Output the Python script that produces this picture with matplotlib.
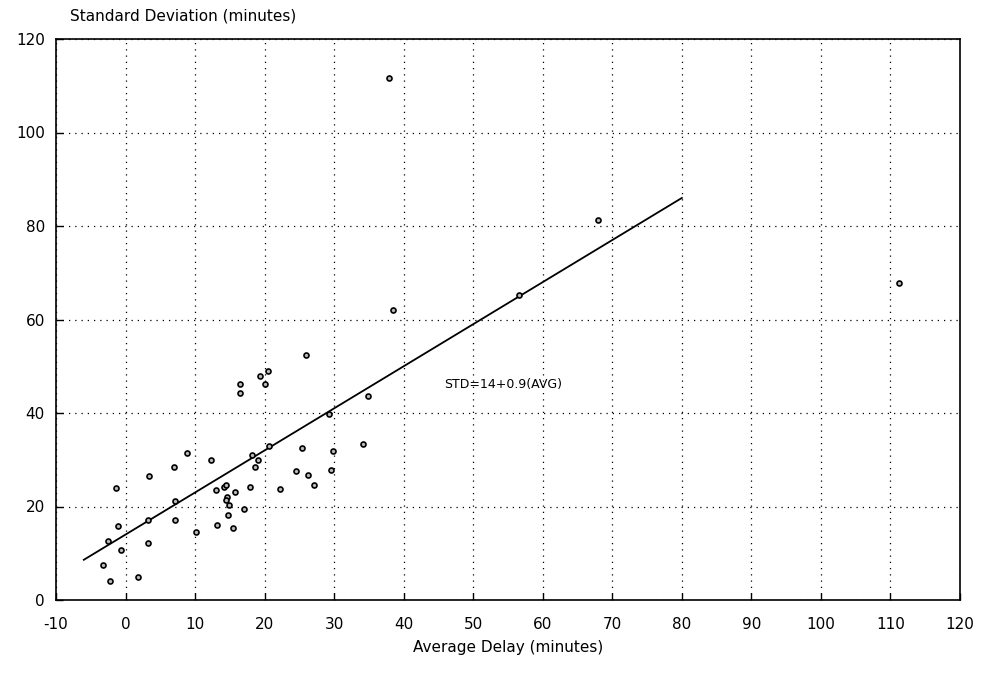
import matplotlib.pyplot as plt
import numpy as np

plt.rcParams["axes.unicode_minus"] = False

# Data
avg_delay = [-3.3, -2.3, 1.8, -2.5, -0.6, -1.1, -1.4, 3.3, 3.2, 3.4,
             7.1, 7.1, 6.9, 8.8, 10.1, 12.3, 13.0, 13.2, 14.2, 14.5,
             14.6, 14.5, 14.9, 14.8, 15.4, 15.8, 17.0, 17.9, 18.2, 18.6,
             19.1, 16.4, 16.4, 19.4, 20.5, 20.1, 20.7, 22.2, 24.5, 25.4,
             26.3, 27.1, 29.6, 29.9, 34.1, 29.2, 34.8, 26.0, 38.5, 37.9,
             56.6, 68.0, 111.2]
std_dev = [7.4, 4.1, 5.0, 12.6, 10.8, 15.9, 23.9, 12.1, 17.1, 26.5,
           21.2, 17.1, 28.4, 31.4, 14.5, 29.9, 23.6, 16.0, 24.1, 24.7,
           22.1, 21.3, 20.4, 18.2, 15.5, 23.0, 19.4, 24.2, 31.1, 28.4,
           29.9, 46.1, 44.2, 47.9, 49.0, 46.2, 33.0, 23.8, 27.5, 32.5,
           26.7, 24.7, 27.9, 31.9, 33.4, 39.7, 43.6, 52.3, 62.1, 111.6,
           65.3, 81.3, 67.9]

# Fit line STD = 14 + 0.9 * AVG
fit_intercept = 14
fit_slope = 0.9
fit_range = [-6, 80]

fig = plt.figure(figsize=(9.84, 6.81), dpi=100)
ax = fig.add_axes([56 / 984, 81 / 681, 904 / 984, 561 / 681])

fx = np.array(fit_range)
ax.plot(fx, fit_intercept + fit_slope * fx, color="black", linewidth=1.3, zorder=3)

ax.plot(avg_delay, std_dev, linestyle="none", marker="o", markersize=3.6,
        markerfacecolor="#bbbbbb", markeredgecolor="black", markeredgewidth=1.2,
        zorder=4)

ax.text(45.8, 46.2, "STD=14+0.9(AVG)", fontsize=9, ha="left", va="center")

ax.set_xlim(-10, 120)
ax.set_ylim(0, 120)
ax.set_xticks(np.arange(-10, 121, 10))
ax.set_yticks(np.arange(0, 121, 20))
ax.grid(True, color="black", linestyle=(0, (1, 4)), linewidth=0.9)
ax.set_axisbelow(True)

for s in ax.spines.values():
    s.set_linewidth(1.2)
    s.set_color("black")

ax.tick_params(direction="in", length=5, width=1, labelsize=11, pad=12,
               colors="black")
ax.tick_params(axis="y", pad=8)

ax.set_xlabel("Average Delay (minutes)", fontsize=11, labelpad=6)
fig.text(70 / 984, 1 - 16 / 681, "Standard Deviation (minutes)", fontsize=11,
         ha="left", va="center")

plt.savefig("out.png", dpi=100)
